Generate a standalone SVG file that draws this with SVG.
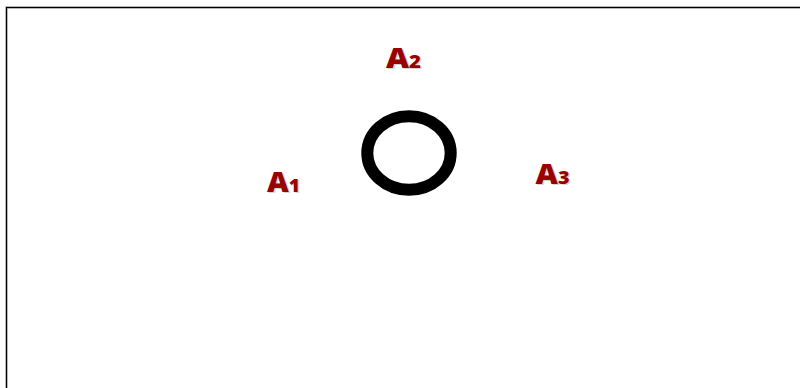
<svg xmlns="http://www.w3.org/2000/svg" width="800" height="388" viewBox="0 0 800 388">
<style>
.lbl{font-family:"Open Sans","DejaVu Sans",sans-serif;font-weight:800;fill:#990000;font-size:28px}
.sub{font-size:18px}
.sh{fill:#bbbbbb;opacity:0.6}
</style>
<rect width="800" height="388" fill="#ffffff"/>
<rect x="6.5" y="7.5" width="800" height="400" fill="none" stroke="#888" stroke-width="2.2"/>
<rect x="6.5" y="7.5" width="800" height="400" fill="none" stroke="#000" stroke-width="1"/>
<g id="ring"><ellipse cx="409" cy="153" rx="41.7" ry="36.8" fill="none" stroke="#000" stroke-width="12"/></g>
<g id="A1">
<text class="lbl sh" x="268.5" y="193" textLength="33" lengthAdjust="spacingAndGlyphs">A<tspan class="sub">1</tspan></text>
<text class="lbl" x="267" y="192" textLength="33" lengthAdjust="spacingAndGlyphs">A<tspan class="sub">1</tspan></text>
</g>
<g id="A2">
<text class="lbl sh" x="387.5" y="68.5" textLength="35" lengthAdjust="spacingAndGlyphs">A<tspan class="sub">2</tspan></text>
<text class="lbl" x="386" y="67.5" textLength="35" lengthAdjust="spacingAndGlyphs">A<tspan class="sub">2</tspan></text>
</g>
<g id="A3">
<text class="lbl sh" x="537" y="185" textLength="34" lengthAdjust="spacingAndGlyphs">A<tspan class="sub">3</tspan></text>
<text class="lbl" x="535.5" y="184" textLength="34" lengthAdjust="spacingAndGlyphs">A<tspan class="sub">3</tspan></text>
</g>
</svg>
